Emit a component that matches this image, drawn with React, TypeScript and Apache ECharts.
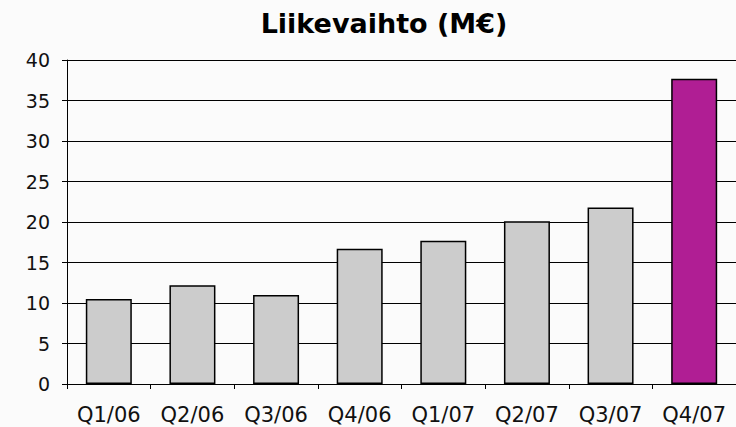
import React, { useEffect, useRef } from "react";
import * as echarts from "echarts";

const categories = ["Q1/06", "Q2/06", "Q3/06", "Q4/06", "Q1/07", "Q2/07", "Q3/07", "Q4/07"];
const revenue = [10.5, 12.2, 11.0, 16.7, 17.7, 20.1, 21.8, 37.7];
const highlightIndex = 7;

export default function App() {
  const ref = useRef<HTMLDivElement>(null);
  useEffect(() => {
    const chart = echarts.init(ref.current!, undefined, { renderer: "svg" });
    chart.setOption({
      animation: false,
      backgroundColor: "#fbfbfb",
      title: {
        text: "Liikevaihto (M€)",
        left: 379,
        top: 5,
        textAlign: "center",
        textStyle: { fontFamily: "DejaVu Sans", fontWeight: "bold", fontSize: 27, color: "#000" },
      },
      grid: { left: 67, right: -3, top: 60, bottom: 43, containLabel: false },
      xAxis: {
        type: "category",
        data: categories,
        axisLine: { show: true, lineStyle: { color: "#000", width: 1 } },
        axisTick: { show: true, length: 5, lineStyle: { color: "#000" } },
        axisLabel: { color: "#111", fontFamily: "DejaVu Sans", fontSize: 21, margin: 20 },
      },
      yAxis: {
        type: "value",
        min: 0,
        max: 40,
        interval: 5,
        axisLine: { show: true, lineStyle: { color: "#000", width: 1 } },
        axisTick: { show: true, length: 5, lineStyle: { color: "#000" } },
        axisLabel: { color: "#111", fontFamily: "DejaVu Sans", fontSize: 19, margin: 17 },
        splitLine: { show: true, lineStyle: { color: "#000", width: 1 } },
      },
      series: [
        {
          type: "bar",
          barWidth: "55%",
          data: revenue.map((v, i) => ({
            value: v,
            itemStyle: { color: i === highlightIndex ? "#b01e94" : "#cccccc" },
          })),
          itemStyle: { borderColor: "#000", borderWidth: 1.5 },
        },
      ],
    });
    return () => chart.dispose();
  }, []);
  return <div ref={ref} style={{ position: "fixed", left: 0, top: 0, width: 736, height: 427 }} />;
}
